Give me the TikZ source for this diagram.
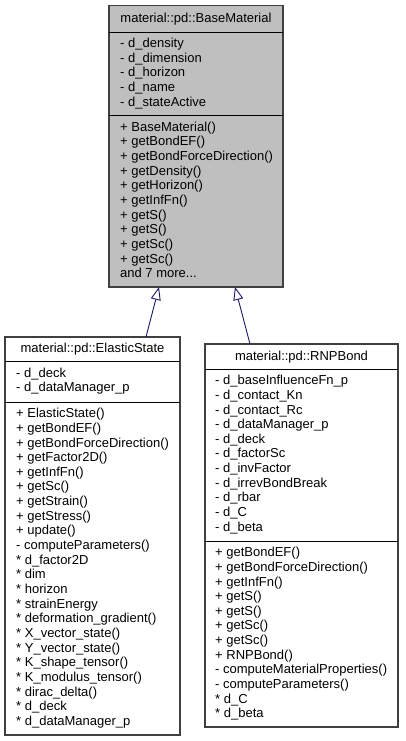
\documentclass[tikz,border=0pt]{standalone}
\usepackage{fontspec}
\setmainfont{Liberation Sans}
\usetikzlibrary{arrows.meta}
\definecolor{basegray}{RGB}{191,191,191}
\definecolor{edgeblue}{RGB}{25,25,112}
\begin{document}
\begin{tikzpicture}[x=1pt,y=-1pt,
  box/.style={draw=black!75, line width=1.2pt, inner sep=0pt, outer sep=0pt, anchor=north west},
  sepline/.style={draw=black, line width=0.9pt},
  txt/.style={anchor=base west, inner sep=0pt, font=\fontsize{13}{15}\selectfont},
  ttl/.style={anchor=base, inner sep=0pt, font=\fontsize{13}{15}\selectfont},
  inherit/.style={draw=edgeblue, line width=0.9pt, -{Triangle[open, length=13pt, width=10pt, line width=0.9pt]}}]
\useasboundingbox (0,0) rectangle (405,741);

% ---------- BaseMaterial ----------
\node[box, fill=basegray, minimum width=174pt, minimum height=281.5pt] (base) at (109,5.5) {};
\node[ttl] (base-title) at (196,23) {material::pd::BaseMaterial};
\draw[sepline] (base.west |- 0,32) -- (base.east |- 0,32);
\draw[sepline] (base.west |- 0,115) -- (base.east |- 0,115);
\foreach \t [count=\i] in {- d\_density, - d\_dimension, - d\_horizon, - d\_name, - d\_stateActive}
  \node[txt] (base-a\i) at (120,{47.5+(\i-1)*14.65}) {\t};
\foreach \t [count=\i] in {+ BaseMaterial(), + getBondEF(), + getBondForceDirection(), + getDensity(), + getHorizon(), + getInfFn(), + getS(), + getS(), + getSc(), + getSc()}
  \node[txt] (base-m\i) at (120,{131.2+(\i-1)*14.65}) {\t};
\node[txt] (base-more) at (120,{131.2+10*14.65}) {and 7 more...};

% ---------- ElasticState ----------
\node[box, fill=white, minimum width=175pt, minimum height=398pt] (elastic) at (5,337) {};
\node[ttl] (elastic-title) at (92.5,352.5) {material::pd::ElasticState};
\draw[sepline] (elastic.west |- 0,361) -- (elastic.east |- 0,361);
\draw[sepline] (elastic.west |- 0,402) -- (elastic.east |- 0,402);
\foreach \t [count=\i] in {- d\_deck, - d\_dataManager\_p}
  \node[txt] (elastic-a\i) at (16,{377.3+(\i-1)*14.65}) {\t};
\foreach \t [count=\i] in {+ ElasticState(), + getBondEF(), + getBondForceDirection(), + getFactor2D(), + getInfFn(), + getSc(), + getStrain(), + getStress(), + update(), - computeParameters(), * d\_factor2D, * dim, * horizon, * strainEnergy, * deformation\_gradient(), * X\_vector\_state(), * Y\_vector\_state(), * K\_shape\_tensor(), * K\_modulus\_tensor(), * dirac\_delta(), * d\_deck, * d\_dataManager\_p}
  \node[txt] (elastic-m\i) at (16,{417.7+(\i-1)*14.65}) {\t};

% ---------- RNPBond ----------
\node[box, fill=white, minimum width=193pt, minimum height=383pt] (rnp) at (205,344) {};
\node[ttl] (rnp-title) at (301.5,360) {material::pd::RNPBond};
\draw[sepline] (rnp.west |- 0,369) -- (rnp.east |- 0,369);
\draw[sepline] (rnp.west |- 0,541) -- (rnp.east |- 0,541);
\foreach \t [count=\i] in {- d\_baseInfluenceFn\_p, - d\_contact\_Kn, - d\_contact\_Rc, - d\_dataManager\_p, - d\_deck, - d\_factorSc, - d\_invFactor, - d\_irrevBondBreak, - d\_rbar, - d\_C, - d\_beta}
  \node[txt] (rnp-a\i) at (215,{384.7+(\i-1)*14.65}) {\t};
\foreach \t [count=\i] in {+ getBondEF(), + getBondForceDirection(), + getInfFn(), + getS(), + getS(), + getSc(), + getSc(), + RNPBond(), - computeMaterialProperties(), - computeParameters(), * d\_C, * d\_beta}
  \node[txt] (rnp-m\i) at (215,{556.7+(\i-1)*14.65}) {\t};

% ---------- inheritance ----------
\draw[inherit] ([xshift=141pt]elastic.north west) -- ([xshift=50pt]base.south west);
\draw[inherit] ([xshift=45pt]rnp.north west) -- ([xshift=126pt]base.south west);
\end{tikzpicture}
\end{document}
